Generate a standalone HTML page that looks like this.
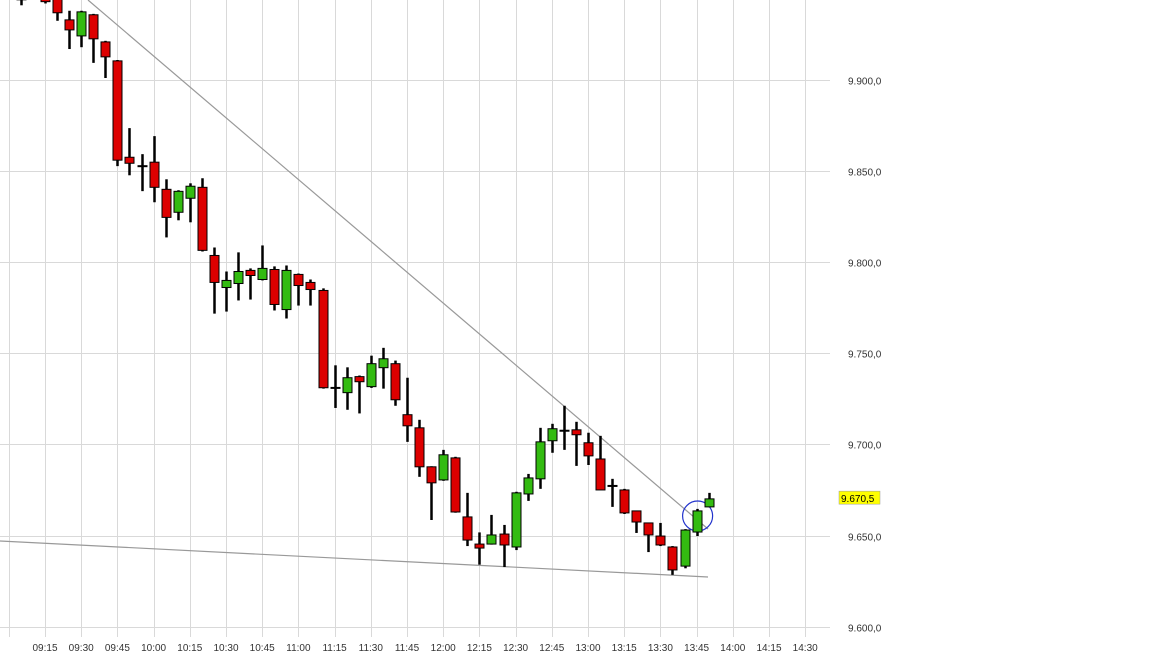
<!DOCTYPE html>
<html><head><meta charset="utf-8"><style>
body{margin:0;background:#fff;}
svg{display:block;font-family:"Liberation Sans",sans-serif;}
</style></head><body>
<svg id="chart" width="1152" height="657" viewBox="0 0 1152 657" xmlns="http://www.w3.org/2000/svg">
<g id="grid"></g>
<g id="lines"></g>
<g id="candles"></g>
<g id="yaxis"></g>
<g id="xaxis"></g>
</svg>
<script>
const times=["09:05","09:15","09:20","09:25","09:30","09:35","09:40","09:45","09:50","09:55","10:00","10:05","10:10","10:15","10:20","10:25","10:30","10:35","10:40","10:45","10:50","10:55","11:00","11:05","11:10","11:15","11:20","11:25","11:30","11:35","11:40","11:45","11:50","11:55","12:00","12:05","12:10","12:15","12:20","12:25","12:30","12:35","12:40","12:45","12:50","12:55","13:00","13:05","13:10","13:15","13:20","13:25","13:30","13:35","13:40","13:45","13:50"];
const opens=[9948,9945,9950,9933,9924.2,9935.8,9920.9,9910.5,9857.6,9852.7,9854.9,9840,9827.4,9835.1,9841.1,9803.7,9786.1,9788.3,9795.5,9790.5,9796,9774,9793.3,9788.9,9784.5,9731,9728.4,9737.2,9731.7,9742.1,9744.3,9716.3,9709.1,9687.7,9680.5,9692.6,9660.2,9645.3,9645.3,9650.8,9643.7,9672.8,9681.1,9702,9707.5,9708,9700.9,9692,9677.2,9675,9663.5,9656.9,9649.7,9643.7,9633.2,9651.9,9665.7];
const highs=[9952,9946,9955,9938,9938,9936.3,9921.5,9911,9873.6,9859.3,9869.2,9845.5,9839.5,9843.3,9846.1,9808.1,9794.9,9805.4,9796.6,9809.2,9797.7,9798.2,9793.8,9790.5,9785.6,9743.4,9742.3,9737.8,9748.7,9753,9746,9736.6,9713.5,9688,9697,9693.2,9673.4,9651.7,9661.3,9655.8,9674,9683.8,9709.1,9711.3,9721.2,9712.4,9706.4,9704.7,9681.1,9675.6,9663.5,9656.9,9656.9,9644.2,9653.5,9664.6,9673.4];
const lows=[9941,9942,9932.5,9917,9918,9909.4,9901.1,9852.7,9847.7,9839,9832.9,9813.6,9823,9821.9,9805.9,9771.8,9772.9,9779,9779.5,9790,9773.5,9769.1,9776.2,9776.2,9730.6,9720,9719,9717,9731,9730.6,9721.2,9701.4,9682.2,9658.5,9680,9662.5,9644.2,9634,9645,9632.7,9642,9669,9675.6,9695.4,9697,9688.2,9688.7,9675,9665.7,9661.8,9651.4,9640.9,9644.2,9628.4,9632,9649.7,9665.5];
const closes=[9944,9943,9936.9,9927.5,9937.4,9922.6,9912.7,9856,9854.3,9852.7,9841.1,9824.6,9838.9,9841.7,9806.5,9788.9,9790,9794.9,9792.7,9796.6,9776.8,9795.5,9787.2,9785,9731.1,9731,9736.6,9734.4,9744.3,9747,9724.5,9710.2,9687.7,9678.9,9694.3,9662.9,9647.5,9643.1,9650.3,9644.8,9673.4,9681.6,9701.4,9708.6,9707.5,9705.3,9693.7,9675,9677.2,9662.4,9657.4,9650.3,9644.8,9631.1,9653,9663.5,9670.1];
const yTicks=[9600,9650,9700,9750,9800,9850,9900];
const yTickLabels=["9.600,0","9.650,0","9.700,0","9.750,0","9.800,0","9.850,0","9.900,0"];
const xTickLabels=["09:15","09:30","09:45","10:00","10:15","10:30","10:45","11:00","11:15","11:30","11:45","12:00","12:15","12:30","12:45","13:00","13:15","13:30","13:45","14:00","14:15","14:30"];
const lastPrice=9670.5;const lastLabel="9.670,5";

const NS="http://www.w3.org/2000/svg";
function mins(t){const p=t.split(":");return (+p[0])*60+(+p[1])-(9*60+15);}
function X(t){return 45+mins(t)*36.2/15;}
function Y(v){return 80+(9900-v)*1.822;}
function mk(tag,attrs,parent){const e=document.createElementNS(NS,tag);for(const k in attrs)e.setAttribute(k,attrs[k]);parent.appendChild(e);return e;}
const grid=document.getElementById('grid'),cg=document.getElementById('candles'),ya=document.getElementById('yaxis'),xa=document.getElementById('xaxis'),lg=document.getElementById('lines');
// vertical grid
for(let k=-1;k<=21;k++){const x=Math.round(45+k*36.2)+0.5;const l=mk('line',{x1:x,x2:x,y1:0,y2:637,stroke:'#d9d9d9','stroke-width':1},grid);

}
yTicks.forEach((v,i)=>{const y=Math.round(Y(v))+0.5;const l=mk('line',{x1:0,x2:830,y1:y,y2:y,stroke:'#d9d9d9','stroke-width':1},grid);


const t=mk('text',{x:848,y:y+4,'font-size':10,fill:'#333'},ya);t.textContent=yTickLabels[i];

});
xTickLabels.forEach(s=>{const t=mk('text',{x:X(s),y:651,'font-size':10,fill:'#333','text-anchor':'middle'},xa);t.textContent=s;

});
// trendlines
const up=mk('line',{x1:88,y1:0,x2:708,y2:529,stroke:'#999','stroke-width':1.2},lg);


const lo=mk('line',{x1:0,y1:541,x2:708,y2:577,stroke:'#999','stroke-width':1.2},lg);


// candles
times.forEach((t,i)=>{const x=Math.round(X(t))+0.5;const o=opens[i],c=closes[i];
const g=mk('g',{},cg);


mk('line',{x1:x,x2:x,y1:Y(highs[i]),y2:Y(lows[i]),stroke:'#000','stroke-width':2.5},g);
const top=Y(Math.max(o,c)),bot=Y(Math.min(o,c));
if(bot-top<1.5){mk('line',{x1:x-5,x2:x+5,y1:top,y2:top,stroke:'#000','stroke-width':2},g);}
else mk('rect',{x:x-4.5,y:top,width:9,height:bot-top,fill:c>o?'#33bb11':'#dd0000',stroke:'#000','stroke-width':1},g);});
// marker circle
const lastT=times[times.length-2];
const circ=mk('circle',{cx:X(lastT)+1,cy:516,r:15,fill:'none',stroke:'#2233cc','stroke-width':1.2},lg);


// last price label
const ly=Y(lastPrice);
const lb=mk('rect',{x:839,y:ly-7,width:41,height:13,fill:'#ffff00',stroke:'#999','stroke-width':0.5},ya);


const lt=mk('text',{x:841,y:ly+4,'font-size':10,fill:'#000'},ya);lt.textContent=lastLabel;


</script>
</body></html>
